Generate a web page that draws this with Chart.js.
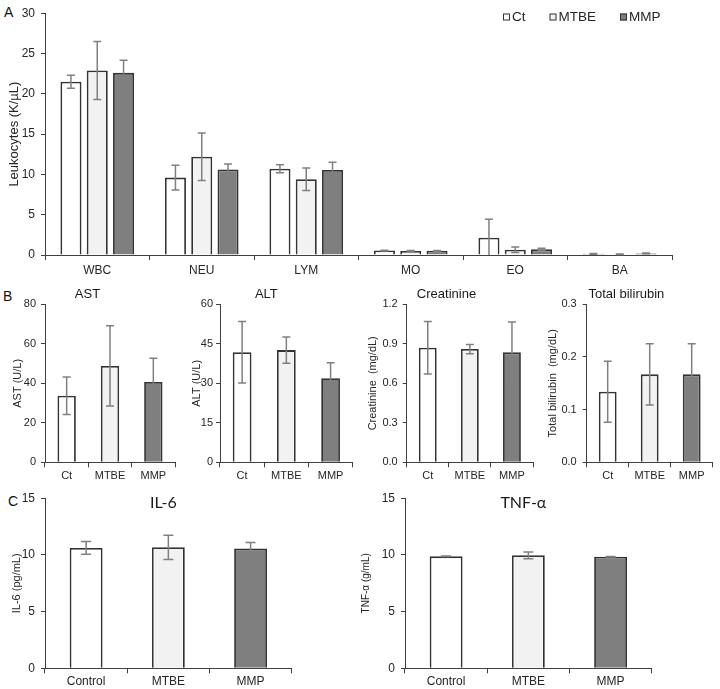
<!DOCTYPE html>
<html>
<head>
<meta charset="utf-8">
<script src="https://cdn.jsdelivr.net/npm/chart.js@4"></script>
<style>
  body { margin: 0; background: #fff; width: 720px; height: 689px; position: relative; overflow: hidden; font-family: "Liberation Sans", Arial, sans-serif; }
  canvas { position: absolute; }
  .panel { position: absolute; font-size: 14px; line-height: 1; color: #111; }
</style>
</head>
<body>
<div class="panel" style="left:4px;top:5px">A</div>
<div class="panel" style="left:3px;top:289px">B</div>
<div class="panel" style="left:8px;top:494px">C</div>

<canvas id="leuko" width="720" height="285" style="left:0;top:0"></canvas>
<canvas id="ast" width="180" height="195" style="left:0;top:285px"></canvas>
<canvas id="alt" width="180" height="195" style="left:180px;top:285px"></canvas>
<canvas id="creat" width="180" height="195" style="left:360px;top:285px"></canvas>
<canvas id="bili" width="180" height="195" style="left:540px;top:285px"></canvas>
<canvas id="il6" width="360" height="209" style="left:0;top:480px"></canvas>
<canvas id="tnf" width="360" height="209" style="left:360px;top:480px"></canvas>

<script>
// Datos
const leukoCategories = ['WBC', 'NEU', 'LYM', 'MO', 'EO', 'BA'];
const groups = ['Ct', 'MTBE', 'MMP'];
const leukoCt = [21.5, 9.6, 10.7, 0.55, 2.15, 0.15];
const leukoCtErr = [0.8, 1.55, 0.5, 0.05, 2.3, 0.05];
const leukoMTBE = [22.9, 12.2, 9.4, 0.5, 0.65, 0.1];
const leukoMTBEErr = [3.6, 2.95, 1.4, 0.05, 0.35, 0.03];
const leukoMMP = [22.6, 10.6, 10.55, 0.52, 0.7, 0.2];
const leukoMMPErr = [1.55, 0.7, 0.95, 0.05, 0.15, 0.05];

const astValues = [33.7, 48.8, 40.7];
const astErr = [9.5, 20.3, 12.0];
const altValues = [41.8, 42.6, 31.9];
const altErr = [11.7, 5.0, 5.9];
const creatValues = [0.87, 0.86, 0.835];
const creatErr = [0.2, 0.035, 0.23];
const biliValues = [0.134, 0.167, 0.167];
const biliErr = [0.058, 0.058, 0.058];

const cytoCategories = ['Control', 'MTBE', 'MMP'];
const il6Values = [10.62, 10.68, 10.56];
const il6Err = [0.56, 1.07, 0.53];
const tnfValues = [9.88, 9.97, 9.85];
const tnfErr = [0.02, 0.3, 0.02];

// Estilos
const ink = '#404040';
const barLine = '#333333';
const textColor = '#262626';
const barFills = ['#ffffff', '#f2f2f2', '#7f7f7f'];
Chart.defaults.font.family = '"Liberation Sans", Arial, sans-serif';
Chart.defaults.color = textColor;

// Barras de error
const errorBars = {
  id: 'errorBars',
  afterDatasetsDraw(chart, args, opts) {
    const { ctx, scales: { y } } = chart;
    const half = (opts.cap || 8) / 2;
    ctx.save();
    ctx.strokeStyle = '#808080';
    ctx.lineWidth = 1.5;
    chart.data.datasets.forEach((ds, i) => {
      if (!ds.errors) return;
      chart.getDatasetMeta(i).data.forEach((bar, j) => {
        const v = ds.data[j], e = ds.errors[j];
        const top = y.getPixelForValue(v + e);
        const low = v - e;
        const bot = y.getPixelForValue(Math.max(low, y.min));
        ctx.beginPath();
        ctx.moveTo(bar.x, top); ctx.lineTo(bar.x, bot);
        ctx.moveTo(bar.x - half, top); ctx.lineTo(bar.x + half, top);
        if (low > y.min) { ctx.moveTo(bar.x - half, bot); ctx.lineTo(bar.x + half, bot); }
        ctx.stroke();
      });
    });
    ctx.restore();
  }
};

// Leyenda de cuadritos (panel A)
const boxLegend = {
  id: 'boxLegend',
  afterDraw(chart, args, opts) {
    if (!opts.display) return;
    const ctx = chart.ctx;
    ctx.save();
    ctx.font = '13.5px "Liberation Sans", Arial, sans-serif';
    ctx.textBaseline = 'middle';
    let x = opts.x;
    chart.data.datasets.forEach(ds => {
      ctx.fillStyle = ds.backgroundColor;
      ctx.fillRect(x, opts.y - 3.5, 7, 7);
      ctx.strokeStyle = barLine;
      ctx.lineWidth = 1;
      ctx.strokeRect(x + 0.5, opts.y - 3, 6, 6);
      ctx.fillStyle = textColor;
      ctx.fillText(ds.label, x + 9, opts.y);
      x += 9 + ctx.measureText(ds.label).width + opts.gap;
    });
    ctx.restore();
  }
};

// Título dentro del área (panel C)
const innerTitle = {
  id: 'innerTitle',
  afterDraw(chart, args, opts) {
    if (!opts.display) return;
    const { ctx, chartArea: a } = chart;
    ctx.save();
    ctx.font = '16px Lato, "Open Sans", sans-serif';
    ctx.fillStyle = '#1a1a1a';
    ctx.textAlign = 'center';
    ctx.textBaseline = 'middle';
    ctx.fillText(opts.text, (a.left + a.right) / 2 + opts.dx, a.top + opts.dy);
    ctx.restore();
  }
};

Chart.register(errorBars, boxLegend, innerTitle);

function axisY(max, step, title, o) {
  const ticks = { stepSize: step, padding: o.tickPad, font: { size: o.font }, color: textColor };
  if (o.fmt) ticks.callback = o.fmt;
  return {
    min: 0, max, ticks,
    grid: { drawOnChartArea: false, tickLength: 4, color: ink },
    border: { color: ink, width: 1 },
    title: { display: true, text: title, font: { size: o.titleSize }, color: textColor, padding: { top: o.titlePad, bottom: 0 } },
    afterFit: s => { s.width = o.width; }
  };
}

function axisX(o) {
  return {
    ticks: { font: { size: o.font }, color: textColor, padding: o.tickPad, maxRotation: 0, autoSkip: false },
    grid: { drawOnChartArea: false, tickLength: 5, color: ink, offset: true },
    border: { color: ink, width: 1 },
    afterFit: s => { s.height = o.height; }
  };
}

// Panel A
new Chart(document.getElementById('leuko'), {
  type: 'bar',
  data: {
    labels: leukoCategories,
    datasets: [
      { label: groups[0], data: leukoCt, errors: leukoCtErr, backgroundColor: barFills[0] },
      { label: groups[1], data: leukoMTBE, errors: leukoMTBEErr, backgroundColor: barFills[1] },
      { label: groups[2], data: leukoMMP, errors: leukoMMPErr, backgroundColor: barFills[2] }
    ]
  },
  options: {
    responsive: false, animation: false,
    layout: { padding: { top: 11, right: 48, left: 0, bottom: 0 } },
    datasets: { bar: { categoryPercentage: 0.755, barPercentage: 0.8, borderColor: barLine, borderWidth: 1.8 } },
    scales: {
      x: axisX({ font: 12, tickPad: 3, height: 30 }),
      y: axisY(30, 5, 'Leukocytes (K/µL)', { font: 12, tickPad: 6, titleSize: 13, titlePad: 7, width: 45 })
    },
    plugins: {
      legend: { display: false }, tooltip: { enabled: false },
      errorBars: { cap: 8 },
      boxLegend: { display: true, x: 503, y: 17, gap: 24 }
    }
  }
});

// Panel B
function smallChart(id, values, errs, max, step, title, yTitle, o) {
  new Chart(document.getElementById(id), {
    type: 'bar',
    data: {
      labels: groups,
      datasets: [{ data: values, errors: errs, backgroundColor: barFills, borderColor: barLine, borderWidth: 1.8,
        categoryPercentage: 0.8, barPercentage: 0.53 }]
    },
    options: {
      responsive: false, animation: false,
      layout: { padding: { top: 0, right: o.right, left: 0, bottom: 0 } },
      scales: {
        x: axisX({ font: 11, tickPad: 2, height: 17.7 }),
        y: axisY(max, step, yTitle, { font: 11, tickPad: o.tickPad, titleSize: 11, titlePad: o.titlePad, width: o.width, fmt: o.fmt })
      },
      plugins: {
        legend: { display: false }, tooltip: { enabled: false },
        title: { display: true, text: title, font: { size: 13, weight: 'normal' }, color: '#1a1a1a', padding: { top: 2, bottom: 1.7 } },
        errorBars: { cap: 8 }
      }
    }
  });
}

const oneDec = v => v.toFixed(1);
smallChart('ast', astValues, astErr, 80, 20, 'AST', 'AST (U/L)', { right: 5, width: 45, tickPad: 5, titlePad: 11.4 });
smallChart('alt', altValues, altErr, 60, 15, 'ALT', 'ALT (U/L)', { right: 7.3, width: 40, tickPad: 3, titlePad: 10 });
smallChart('creat', creatValues, creatErr, 1.2, 0.3, 'Creatinine', 'Creatinine  (mg/dL)', { right: 7, width: 46.7, tickPad: 5, titlePad: 6.7, fmt: oneDec });
smallChart('bili', biliValues, biliErr, 0.3, 0.1, 'Total bilirubin', 'Total bilirubin  (mg/dL)', { right: 7.3, width: 46.7, tickPad: 6, titlePad: 6.4, fmt: oneDec });

// Panel C
function cytoChart(id, values, errs, title, yTitle, o) {
  new Chart(document.getElementById(id), {
    type: 'bar',
    data: {
      labels: cytoCategories,
      datasets: [{ data: values, errors: errs, backgroundColor: barFills, borderColor: barLine, borderWidth: 1.8,
        categoryPercentage: 0.8, barPercentage: 0.5 }]
    },
    options: {
      responsive: false, animation: false,
      layout: { padding: { top: 18.3, right: 68.3, left: 0, bottom: 0 } },
      scales: {
        x: axisX({ font: 12, tickPad: 1, height: 20.7 }),
        y: axisY(15, 5, yTitle, { font: 12, tickPad: 6, titleSize: o.titleSize, titlePad: o.titlePad, width: 45 })
      },
      plugins: {
        legend: { display: false }, tooltip: { enabled: false },
        errorBars: { cap: 10 },
        innerTitle: { display: true, text: title, dx: -5, dy: 5 }
      }
    }
  });
}

cytoChart('il6', il6Values, il6Err, 'IL-6', 'IL-6 (pg/mL)', { titleSize: 11, titlePad: 10 });
cytoChart('tnf', tnfValues, tnfErr, 'TNF-α', 'TNF-α (g/mL)', { titleSize: 10, titlePad: 0 });
</script>
</body>
</html>
